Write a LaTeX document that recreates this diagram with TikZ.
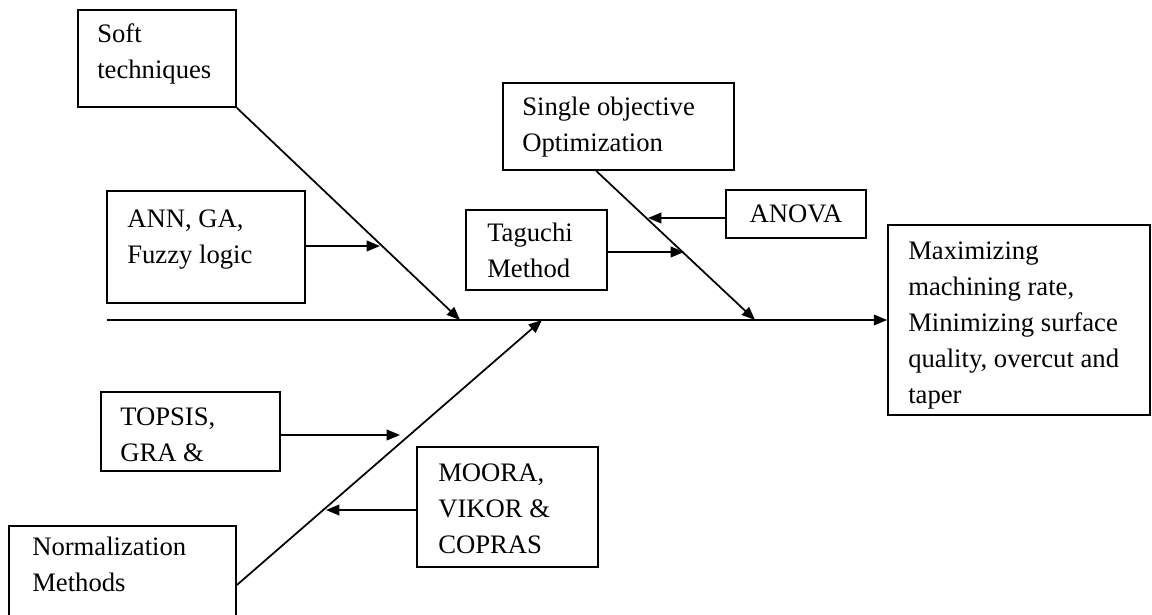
\documentclass[tikz,border=0pt]{standalone}
\usepackage{fontspec}
\setmainfont{Liberation Serif}
\usetikzlibrary{arrows.meta,fit}
\begin{document}
\begin{tikzpicture}[x=0.75pt,y=-0.75pt,
  box/.style={draw, line width=1.3pt, inner sep=0pt, rectangle},
  % anchored at the baseline of the last line
  lbl/.style={anchor=base west, inner sep=0pt, align=left, font=\fontsize{20}{27}\selectfont},
  arr/.style={line width=1.3pt, -{Triangle[length=10pt,width=8pt]}}]
\useasboundingbox (0,0) rectangle (1152,614);
\fill[white] (0,0) rectangle (1152,614);

% boxes
\node[box, fit={(78,10) (236,107)}] (soft) {};
\node[box, fit={(107,191) (305,303)}] (ann) {};
\node[box, fit={(503,83) (734,170)}] (single) {};
\node[box, fit={(466,210) (607,290)}] (taguchi) {};
\node[box, fit={(726,190) (866,238)}] (anova) {};
\node[box, fit={(888,225) (1150,415)}] (result) {};
\node[box, fit={(101,392) (280,471)}] (topsis) {};
\node[box, fit={(417,447) (598,567)}] (moora) {};
\node[box, fit={(9,526) (236,644)}] (norm) {};

% box texts
\node[lbl] (softtxt) at (97,78) {Soft\\techniques};
\node[lbl] (anntxt) at (127,263) {ANN, GA,\\Fuzzy logic};
\node[lbl] (singletxt) at (522,151) {Single objective\\Optimization};
\node[lbl] (taguchitxt) at (487,277) {Taguchi\\Method};
\node[inner sep=0pt, font=\fontsize{20}{27}\selectfont] (anovatxt) at (anova) {ANOVA};
\node[lbl] (resulttxt) at (908,403) {Maximizing\\machining rate,\\Minimizing surface\\quality, overcut and\\taper};
\node[lbl] (topsistxt) at (120,461) {TOPSIS,\\GRA \&};
\node[lbl] (mooratxt) at (438,553) {MOORA,\\VIKOR \&\\COPRAS};
\node[lbl] (normtxt) at (32,591) {Normalization\\Methods};

% points on the spine and on the bones
\coordinate (spinestart) at (107,320);
\coordinate (softend) at (460,320);
\coordinate (singend) at (755,320);
\coordinate (normend) at (542,320);
\coordinate (annhit) at (380,246);
\coordinate (taghit) at (684,252);
\coordinate (anovahit) at (648,218);
\coordinate (topsishit) at (400,435);
\coordinate (moorahit) at (326,510);

% spine
\draw[arr] (spinestart) -- (result.west);

% bones
\draw[arr] (soft.south east) -- (softend);
\draw[arr] ([xshift=70.5pt]single.south west) -- (singend);
\draw[arr] (norm.east) -- (normend);

% sub-causes
\draw[arr] (ann.east |- annhit) -- (annhit);
\draw[arr] (taguchi.east |- taghit) -- (taghit);
\draw[arr] (anova.west |- anovahit) -- (anovahit);
\draw[arr] (topsis.east |- topsishit) -- (topsishit);
\draw[arr] (moora.west |- moorahit) -- (moorahit);
\end{tikzpicture}
\end{document}
